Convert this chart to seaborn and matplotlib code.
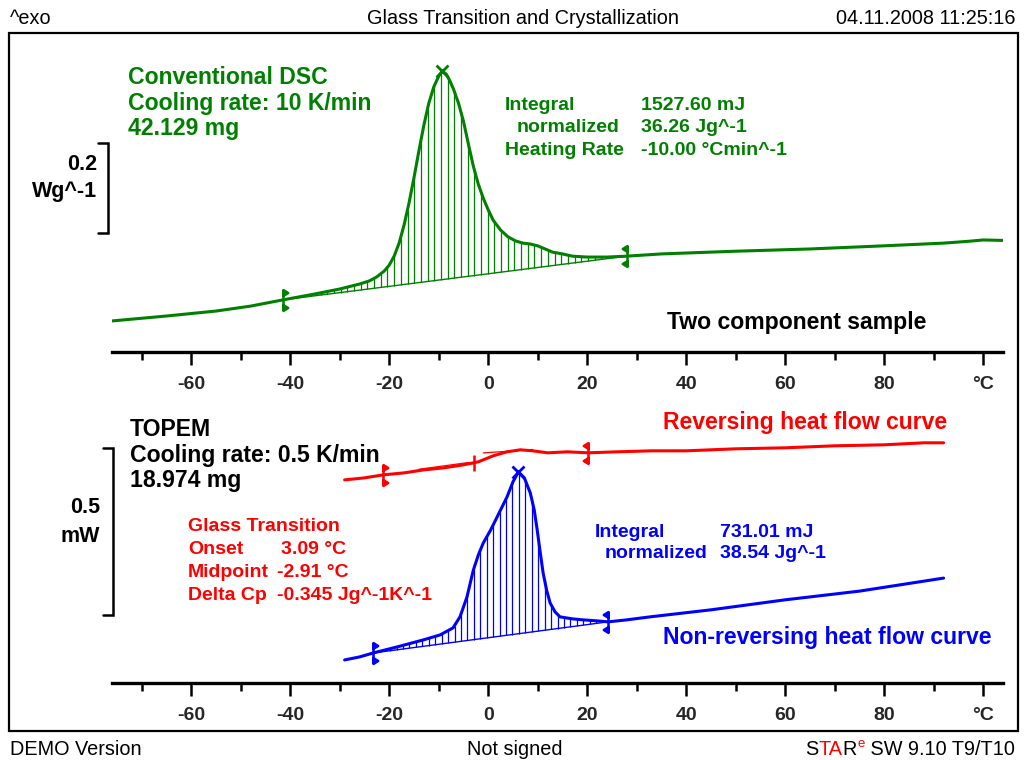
import numpy as np
import pandas as pd
import matplotlib
matplotlib.use("Agg")
import matplotlib.pyplot as plt
import matplotlib.transforms as mtransforms
from matplotlib.path import Path
import seaborn as sns

# ---------------- data ----------------
# Conventional DSC (cooling 10 K/min), heat flow in W/g (exo up, arbitrary offset)
conv_T = [-76, -65, -55, -48, -41.4, -35, -30, -26, -24, -22.5, -21, -20, -19, -18, -17, -16,
          -15, -14, -13, -12, -11, -10, -9.3, -8.5, -7.8, -7, -6, -5, -4, -3, -2, -1, 0, 1,
          2.5, 4, 5.5, 7, 8.5, 10, 11.5, 13, 15, 17, 20, 24, 28, 35, 50, 65, 80, 92, 97, 100, 104]
conv_hf = [0.069, 0.080, 0.091, 0.102, 0.116, 0.129, 0.140, 0.151, 0.158, 0.167, 0.180, 0.193,
           0.213, 0.242, 0.282, 0.331, 0.387, 0.447, 0.504, 0.553, 0.589, 0.613, 0.624, 0.618,
           0.604, 0.584, 0.553, 0.513, 0.462, 0.413, 0.373, 0.342, 0.316, 0.293, 0.271, 0.256,
           0.247, 0.242, 0.240, 0.236, 0.229, 0.222, 0.218, 0.213, 0.211, 0.211, 0.213, 0.218,
           0.224, 0.229, 0.236, 0.242, 0.246, 0.249, 0.248]
conv_limits = [-41.4, 28.0]
conv_peak = -9.3

# TOPEM reversing heat flow, mW
rev_T = [-29, -25, -21.2, -17, -13, -9, -5, -2, 1, 3.8, 6.5, 9, 12, 16, 20.2, 26, 33, 40,
         50, 60, 70, 80, 88, 92]
rev_hf = [0.608, 0.614, 0.623, 0.629, 0.638, 0.644, 0.653, 0.662, 0.680, 0.692, 0.698, 0.695,
          0.689, 0.692, 0.689, 0.692, 0.695, 0.695, 0.701, 0.704, 0.710, 0.713, 0.719, 0.719]
rev_limits = [-21.2, 20.2]
rev_midpoint = -2.91

# TOPEM non-reversing heat flow, mW
nrev_T = [-29, -26, -23.2, -18.4, -13.1, -9.7, -7.1, -5.7, -4.3, -3, -2, -1, 0.5, 1.8, 3, 3.8,
          5, 6.1, 7.3, 8.5, 9.3, 9.9, 10.5, 11.1, 11.8, 12.5, 13.5, 14.5, 17, 19.2, 22, 24.2,
          28, 32.7, 45, 60, 75, 92]
nrev_hf = [0.069, 0.078, 0.090, 0.108, 0.129, 0.144, 0.165, 0.198, 0.257, 0.338, 0.383, 0.419,
           0.458, 0.497, 0.533, 0.557, 0.602, 0.632, 0.614, 0.569, 0.518, 0.458, 0.392, 0.329,
           0.278, 0.240, 0.213, 0.198, 0.192, 0.189, 0.186, 0.183, 0.189, 0.198, 0.219, 0.249,
           0.275, 0.314]
nrev_limits = [-23.2, 24.2]
nrev_peak = 6.1

major_ticks = [-60, -40, -20, 0, 20, 40, 60, 80, 100]
minor_ticks = [-70, -50, -30, -10, 10, 30, 50, 70, 90]
tick_labels = ["-60", "-40", "-20", "0", "20", "40", "60", "80", "°C"]

GREEN = "#008000"
RED = "#ff0000"
BLUE = "#0000ff"

# ---------------- figure ----------------
sns.set_theme(style="white")
plt.rcParams["font.family"] = ["Liberation Sans", "DejaVu Sans"]

W, H = 1025, 760
fig = plt.figure(figsize=(W / 100, H / 100), dpi=100)

# pixel-coordinate background axes for annotations
bg = fig.add_axes([0, 0, 1, 1])
bg.set_xlim(0, W)
bg.set_ylim(H, 0)
bg.axis("off")


def panel(top_px, bottom_px, ylim):
    ax = fig.add_axes([112 / W, 1 - bottom_px / H, 891 / W, (bottom_px - top_px) / H])
    ax.patch.set_alpha(0)
    ax.set_xlim(-76, 104)
    ax.set_ylim(*ylim)
    for s in ["top", "left", "right"]:
        ax.spines[s].set_visible(False)
    ax.spines["bottom"].set_linewidth(2.4)
    ax.spines["bottom"].set_color("black")
    ax.set_yticks([])
    ax.set_xticks(major_ticks)
    ax.set_xticks(minor_ticks, minor=True)
    ax.set_xticklabels(tick_labels, fontweight="bold", fontsize=14)
    ax.tick_params(axis="x", which="major", direction="out", length=9, width=1.8,
                   color="black", pad=8, bottom=True)
    ax.tick_params(axis="x", which="minor", direction="out", length=6, width=1.8,
                   color="black", bottom=True)
    return ax


ax1 = panel(33, 352, (0, 0.709))
ax2 = panel(383, 683, (0, 0.898))


def limit_path(direction):
    d = direction
    verts = [(0, -1), (0, 1),
             (0, 1), (0.45 * d, 0.72), (0, 0.45), (0, 1),
             (0, -1), (0.45 * d, -0.72), (0, -0.45), (0, -1)]
    codes = [Path.MOVETO, Path.LINETO,
             Path.MOVETO, Path.LINETO, Path.LINETO, Path.CLOSEPOLY,
             Path.MOVETO, Path.LINETO, Path.LINETO, Path.CLOSEPOLY]
    return Path(verts, codes)


LEFT_LIM = limit_path(1)
RIGHT_LIM = limit_path(-1)


def draw_curve(ax, T, hf, color, limits=None, peak=None, hatch_step=1.35):
    df = pd.DataFrame({"T": T, "hf": hf})
    sns.lineplot(data=df, x="T", y="hf", ax=ax, color=color, lw=2.2, estimator=None,
                 sort=False, legend=False)
    T = np.asarray(T, float)
    hf = np.asarray(hf, float)
    if limits is not None:
        lv = np.interp(limits, T, hf)
        if peak is not None:
            ax.plot(limits, lv, color=color, lw=1.0)
            xs = np.arange(limits[0] + 0.8, limits[1], hatch_step)
            base = np.interp(xs, limits, lv)
            curve = np.interp(xs, T, hf)
            m = curve > base + 0.004
            ax.vlines(xs[m], base[m], curve[m], color=color, lw=0.9)
        ax.plot([limits[0]], [lv[0]], marker=LEFT_LIM, ms=15, color=color, mfc=color,
                mec=color, mew=1.8, ls="none")
        ax.plot([limits[1]], [lv[1]], marker=RIGHT_LIM, ms=15, color=color, mfc=color,
                mec=color, mew=1.8, ls="none")
    if peak is not None:
        ax.plot([peak], [np.interp(peak, T, hf)], marker="x", ms=9, mew=2, color=color,
                ls="none")


draw_curve(ax1, conv_T, conv_hf, GREEN, conv_limits, conv_peak)
draw_curve(ax2, rev_T, rev_hf, RED, rev_limits, None)
draw_curve(ax2, nrev_T, nrev_hf, BLUE, nrev_limits, nrev_peak, hatch_step=1.3)

# glass transition midpoint and tangents on reversing curve
mid_v = np.interp(rev_midpoint, rev_T, rev_hf)
ax2.plot([rev_midpoint], [mid_v], marker="|", ms=12, mew=1.8, color=RED, ls="none")
tl = np.array([-14.0, -4.0])
ax2.plot(tl, np.interp(tl, rev_T, rev_hf) + 0.004, color=RED, lw=0.9)
tu = np.array([-1.0, 9.0])
ax2.plot(tu, [np.interp(5.0, rev_T, rev_hf) - 0.006, np.interp(9.0, rev_T, rev_hf) + 0.004],
         color=RED, lw=0.9)

for ax in (ax1, ax2):
    ax.set_xlabel("")
    ax.set_ylabel("")

# scale bars
tr1 = mtransforms.blended_transform_factory(bg.transData, ax1.transData)
y0 = 0.2644
ax1.plot([98, 108, 108, 98], [y0 + 0.2, y0 + 0.2, y0, y0], color="black", lw=1.8,
         transform=tr1, clip_on=False, solid_joinstyle="miter")
tr2 = mtransforms.blended_transform_factory(bg.transData, ax2.transData)
y0b = 0.2036
ax2.plot([103, 113, 113, 103], [y0b + 0.5, y0b + 0.5, y0b, y0b], color="black", lw=1.8,
         transform=tr2, clip_on=False, solid_joinstyle="miter")

# frame
bg.add_patch(plt.Rectangle((9, 33), 1009, 698, fill=False, lw=1.6, ec="black"))

BIG = 16.6
SMALL = 14
HDR = 14.3


def t(x, y, s, color="black", size=BIG, weight="bold", ha="left", **kw):
    return bg.text(x, y, s, color=color, fontsize=size, fontweight=weight, ha=ha,
                   va="baseline", **kw)


# header / footer
t(10, 24, "^exo", size=HDR, weight="normal")
t(523, 24, "Glass Transition and Crystallization", size=HDR, weight="normal", ha="center")
t(1015, 24, "04.11.2008 11:25:16", size=HDR, weight="normal", ha="right")
t(10, 755, "DEMO Version", size=HDR, weight="normal")
t(515, 755, "Not signed", size=HDR, weight="normal", ha="center")

renderer = fig.canvas.get_renderer()
xr = 1015
for s, c, sz, dy in [(" SW 9.10 T9/T10", "black", HDR, 0), ("e", RED, 9.5, -8),
                     ("R", "black", HDR, 0), ("TA", RED, HDR, 0), ("S", "black", HDR, 0)]:
    txt = t(xr, 755 + dy, s, color=c, size=sz, weight="normal", ha="right")
    bb = txt.get_window_extent(renderer)
    xr = bb.x0 - (0.5 if s == "e" else 0)

# top panel texts
t(128, 84, "Conventional DSC", GREEN)
t(128, 110, "Cooling rate: 10 K/min", GREEN)
t(128, 135, "42.129 mg", GREEN)
t(505, 110, "Integral", GREEN, SMALL)
t(517, 132, "normalized", GREEN, SMALL)
t(505, 155, "Heating Rate", GREEN, SMALL)
t(641, 110, "1527.60 mJ", GREEN, SMALL)
t(641, 132, "36.26 Jg^-1", GREEN, SMALL)
t(641, 155, "-10.00 °Cmin^-1", GREEN, SMALL)
t(97, 170, "0.2", size=15.5, ha="right")
t(97, 197, "Wg^-1", size=15.5, ha="right")
t(667, 329, "Two component sample")

# bottom panel texts
t(130, 436, "TOPEM")
t(130, 462, "Cooling rate: 0.5 K/min")
t(130, 487, "18.974 mg")
t(663, 429, "Reversing heat flow curve", RED)
t(663, 644, "Non-reversing heat flow curve", BLUE)
t(188, 531, "Glass Transition", RED, SMALL)
t(188, 554, "Onset", RED, SMALL)
t(188, 577, "Midpoint", RED, SMALL)
t(188, 600, "Delta Cp", RED, SMALL)
t(281, 554, "3.09 °C", RED, SMALL)
t(277, 577, "-2.91 °C", RED, SMALL)
t(277, 600, "-0.345 Jg^-1K^-1", RED, SMALL)
t(595, 537, "Integral", BLUE, SMALL)
t(605, 558, "normalized", BLUE, SMALL)
t(720, 537, "731.01 mJ", BLUE, SMALL)
t(720, 558, "38.54 Jg^-1", BLUE, SMALL)
t(100, 513, "0.5", size=15.5, ha="right")
t(100, 542, "mW", size=15.5, ha="right")

fig.savefig("out.png", dpi=100)
